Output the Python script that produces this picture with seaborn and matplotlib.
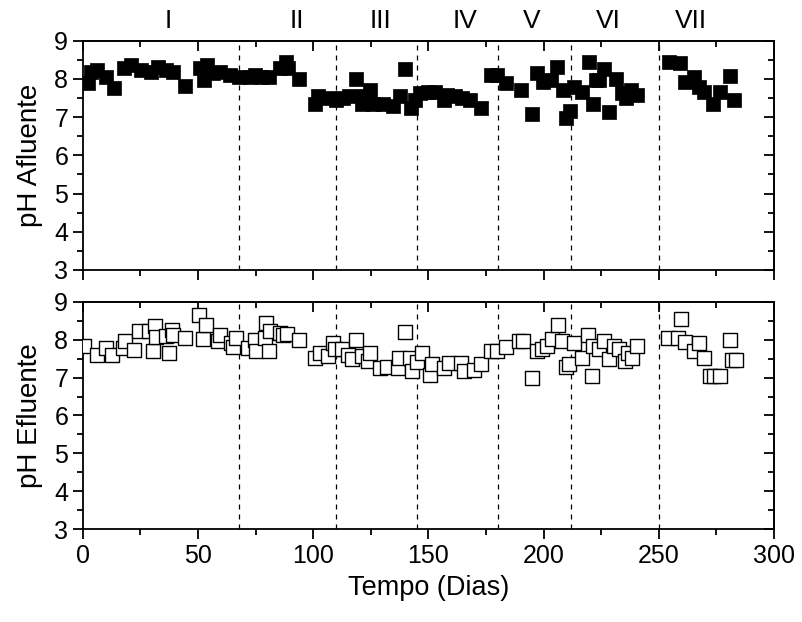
import numpy as np
import pandas as pd
import matplotlib
matplotlib.use("Agg")
import matplotlib.pyplot as plt
import seaborn as sns
from matplotlib.ticker import MultipleLocator

# ---- data ----
day_afl = [2.3, 3.5, 6.4, 10, 13.4, 18, 20.9, 25.3, 29.6, 32.5, 36, 39, 44.5, 51, 52.8, 54,
           56.5, 59.4, 63.7, 68, 72.4, 74.6, 77.5, 81, 85.5, 88, 89, 93.7, 100.7, 102.2, 107,
           110, 113, 115.7, 118.8, 121, 121.8, 124.6, 126, 130.5, 134.8, 137.7, 139.9, 142.4,
           144.2, 146.4, 150, 153, 156.6, 158, 161.7, 164.6, 168.2, 172.8, 177.2, 179.8, 183.8,
           190, 195, 197.2, 199.8, 203, 206, 208.4, 209.5, 211.4, 213.2, 216.8, 219.6, 221.4,
           222.6, 224, 226.2, 228.4, 231.3, 234.2, 235.7, 237.8, 240.4, 254.5, 259.3, 261.5,
           265.4, 267.6, 269.8, 273.4, 276.7, 280.7, 282.8]
ph_afl = [7.89, 8.19, 8.24, 8.06, 7.76, 8.28, 8.37, 8.24, 8.19, 8.32, 8.24, 8.19, 7.82, 8.28,
          7.98, 8.37, 8.15, 8.19, 8.11, 8.06, 8.06, 8.11, 8.06, 8.06, 8.28, 8.45, 8.28, 8.0,
          7.33, 7.56, 7.5, 7.46, 7.5, 7.54, 8.0, 7.33, 7.54, 7.72, 7.33, 7.33, 7.28, 7.54, 8.26,
          7.24, 7.46, 7.63, 7.67, 7.67, 7.46, 7.59, 7.54, 7.5, 7.46, 7.24, 8.11, 8.11, 7.89,
          7.72, 7.07, 8.15, 7.93, 7.98, 8.32, 7.72, 6.98, 7.15, 7.8, 7.67, 8.45, 7.33, 7.98,
          7.98, 8.26, 7.13, 8.0, 7.63, 7.5, 7.72, 7.59, 8.45, 8.41, 7.91, 8.06, 7.8, 7.65, 7.33,
          7.67, 8.08, 7.46]

day_efl = [0.5, 6.4, 10, 12.9, 17.3, 18.4, 22.3, 24.5, 28.9, 30.3, 31.5, 31.8, 36, 37.3, 38.7,
           39.3, 44.4, 50.6, 52.4, 53.5, 58.6, 59.4, 64.4, 65, 66.3, 71.7, 74.6, 75.3, 79, 79.7,
           80.8, 81.4, 85.5, 86.9, 88.7, 93.7, 100.7, 102.9, 106.5, 108.7, 109.4, 112.3, 115.2,
           116.7, 118.8, 121, 123.9, 124.6, 129, 131.9, 136.6, 137.4, 139.9, 142.1, 142.8, 145,
           147.2, 150.8, 151.5, 156.6, 159, 164.3, 165.3, 169.7, 173, 177.2, 179.8, 183.8, 189.2,
           191.1, 195, 197.2, 199.4, 201.6, 203.7, 206.2, 208.1, 209.5, 211, 213.2, 216.5, 219.3,
           221.2, 221.6, 224, 226.2, 228.4, 230.6, 232.8, 235.3, 236.4, 238.3, 240.4, 253.8,
           258.4, 259.6, 261.5, 265.4, 267.6, 269.5, 272.4, 274.1, 276.7, 280.7, 281.7, 283.6]
ph_efl = [7.82, 7.6, 7.78, 7.6, 7.78, 7.96, 7.72, 8.22, 8.22, 7.69, 8.37, 8.07, 8.09, 7.65,
          8.26, 8.13, 8.04, 8.65, 8.02, 8.39, 7.96, 8.11, 7.91, 7.8, 8.04, 7.78, 8.0, 7.69, 8.04,
          8.45, 7.69, 8.22, 8.17, 8.13, 8.16, 8.0, 7.52, 7.65, 7.56, 7.91, 7.74, 7.74, 7.6, 7.48,
          8.0, 7.56, 7.43, 7.65, 7.24, 7.29, 7.24, 7.52, 8.2, 7.52, 7.17, 7.41, 7.65, 7.06, 7.37,
          7.24, 7.39, 7.39, 7.17, 7.19, 7.37, 7.69, 7.69, 7.81, 7.96, 7.96, 7.0, 7.69, 7.76, 7.82,
          8.02, 8.39, 7.96, 7.29, 7.35, 7.91, 7.52, 8.13, 7.04, 7.83, 7.74, 7.97, 7.5, 7.83, 7.74,
          7.43, 7.65, 7.52, 7.84, 8.04, 8.04, 8.55, 7.94, 7.69, 7.91, 7.52, 7.04, 7.04, 7.04,
          8.0, 7.46, 7.46]

phase_bounds = [68, 110, 145, 180, 212, 250]
phase_labels = ["I", "II", "III", "IV", "V", "VI", "VII"]
phase_label_days = [37, 93, 129, 166, 195, 228, 264]

# ---- style ----
sns.set_theme(style="ticks")
plt.rcParams["font.family"] = ["Liberation Sans", "DejaVu Sans"]
plt.rcParams["axes.linewidth"] = 1.3
plt.rcParams["text.color"] = "black"
plt.rcParams["axes.labelcolor"] = "black"
plt.rcParams["xtick.color"] = "black"
plt.rcParams["ytick.color"] = "black"

fig = plt.figure(figsize=(8.03, 6.22), dpi=100)
ax1 = fig.add_axes([0.103, 0.566, 0.861, 0.3686])
ax2 = fig.add_axes([0.103, 0.149, 0.861, 0.366])

df_a = pd.DataFrame({"day": day_afl, "ph": ph_afl})
df_e = pd.DataFrame({"day": day_efl, "ph": ph_efl})

sns.scatterplot(data=df_a, x="day", y="ph", ax=ax1, marker="s", s=95,
                color="black", edgecolor="black", linewidth=0.5, zorder=3)
sns.scatterplot(data=df_e, x="day", y="ph", ax=ax2, marker="s", s=95,
                facecolor="white", edgecolor="black", linewidth=1.0, zorder=3)

for ax, ylab in [(ax1, "pH Afluente"), (ax2, "pH Efluente")]:
    ax.set_xlim(0, 300)
    ax.set_ylim(3, 9)
    ax.xaxis.set_major_locator(MultipleLocator(50))
    ax.xaxis.set_minor_locator(MultipleLocator(25))
    ax.yaxis.set_major_locator(MultipleLocator(1))
    ax.yaxis.set_minor_locator(MultipleLocator(0.5))
    ax.tick_params(which="both", direction="out", top=False, right=False,
                   labelsize=18, width=1.3, colors="black", labelcolor="black")
    ax.tick_params(which="major", length=7)
    ax.tick_params(which="minor", length=4)
    # mirrored inward ticks on top/right
    sec_x = ax.secondary_xaxis("top")
    sec_x.xaxis.set_major_locator(MultipleLocator(50))
    sec_x.xaxis.set_minor_locator(MultipleLocator(25))
    sec_x.tick_params(which="both", direction="in", labeltop=False, width=1.3)
    sec_x.tick_params(which="major", length=7)
    sec_x.tick_params(which="minor", length=4)
    sec_y = ax.secondary_yaxis("right")
    sec_y.yaxis.set_major_locator(MultipleLocator(1))
    sec_y.yaxis.set_minor_locator(MultipleLocator(0.5))
    sec_y.tick_params(which="both", direction="in", labelright=False, width=1.3)
    sec_y.tick_params(which="major", length=7)
    sec_y.tick_params(which="minor", length=4)
    for sp in ax.spines.values():
        sp.set_visible(True)
        sp.set_color("black")
    for b in phase_bounds:
        ax.axvline(b, color="black", linestyle=(0, (4, 4)), linewidth=0.9, zorder=1)
    ax.set_ylabel(ylab, fontsize=20, labelpad=8, color="black")

ax1.set_xlabel("")
ax1.tick_params(labelbottom=False)
ax2.set_xlabel("Tempo (Dias)", fontsize=19.5, labelpad=5, color="black")

for lab, d in zip(phase_labels, phase_label_days):
    ax1.text(d, 1.055, lab, transform=ax1.get_xaxis_transform(), ha="center",
             va="baseline", fontsize=19, color="black")

fig.savefig("out.png", dpi=100)
